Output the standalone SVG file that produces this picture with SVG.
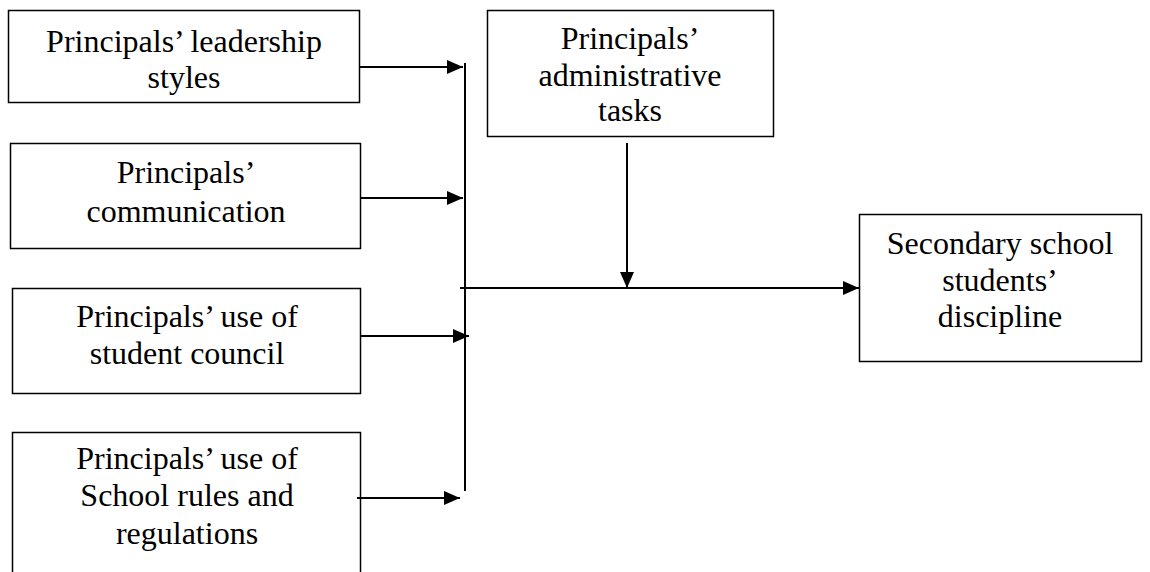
<svg xmlns="http://www.w3.org/2000/svg" width="1150" height="572" viewBox="0 0 1150 572">
<defs>
<style>
.box{fill:#fff;stroke:#000;stroke-width:1.5}
.t{font-family:"Liberation Serif","Times New Roman",serif;font-size:32px;fill:#000;text-anchor:middle}
.c{stroke:#000;stroke-width:2;fill:none}
</style>
<marker id="ah2" markerWidth="16" markerHeight="14" refX="16" refY="7" orient="auto" markerUnits="userSpaceOnUse" viewBox="0 0 16 14">
<path d="M0,0 L16,7 L0,14 z" fill="#000"/>
</marker>
</defs>
<rect width="1150" height="572" fill="#fff"/>
<g id="n1"><rect class="box" x="8.5" y="10.5" width="351" height="92"/>
<text class="t" x="184" y="52">Principals’ leadership</text><text class="t" x="184" y="88">styles</text></g>
<g id="n2"><rect class="box" x="10.5" y="143.5" width="350" height="105"/>
<text class="t" x="186" y="183">Principals’</text><text class="t" x="186" y="222">communication</text></g>
<g id="n3"><rect class="box" x="12.5" y="288.5" width="348" height="105"/>
<text class="t" x="187" y="327">Principals’ use of</text><text class="t" x="187" y="364">student council</text></g>
<g id="n4"><rect class="box" x="12.5" y="432.5" width="348" height="150"/>
<text class="t" x="187" y="469">Principals’ use of</text><text class="t" x="187" y="506">School rules and</text><text class="t" x="187" y="544">regulations</text></g>
<g id="n5"><rect class="box" x="487.5" y="10.5" width="286" height="126"/>
<text class="t" x="630" y="49">Principals’</text><text class="t" x="630" y="86">administrative</text><text class="t" x="630" y="121">tasks</text></g>
<g id="n6"><rect class="box" x="859.5" y="214.5" width="282" height="147"/>
<text class="t" x="1000" y="254">Secondary school</text><text class="t" x="1000" y="291">students’</text><text class="t" x="1000" y="327">discipline</text></g>
<g id="connectors">
<line class="c" x1="465" y1="63" x2="465" y2="491"/>
<line class="c" x1="359" y1="67" x2="463" y2="67" marker-end="url(#ah2)"/>
<line class="c" x1="360" y1="198" x2="463" y2="198" marker-end="url(#ah2)"/>
<line class="c" x1="361" y1="336" x2="469" y2="336" marker-end="url(#ah2)"/>
<line class="c" x1="357" y1="498" x2="460" y2="498" marker-end="url(#ah2)"/>
<line class="c" x1="460" y1="288" x2="859" y2="288" marker-end="url(#ah2)"/>
<line class="c" x1="627" y1="143" x2="627" y2="288" marker-end="url(#ah2)"/>
</g>
</svg>
